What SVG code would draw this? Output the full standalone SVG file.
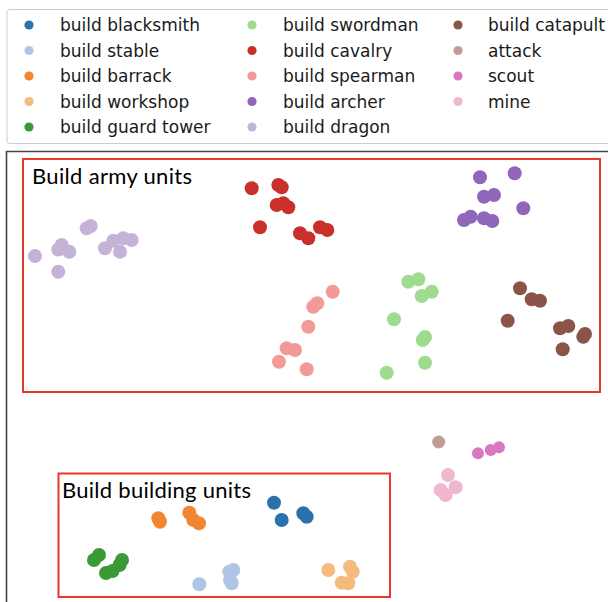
<svg xmlns="http://www.w3.org/2000/svg" width="608" height="602" viewBox="0 0 608 602">
<style>
.lt{font-family:"DejaVu Sans",sans-serif;font-size:17px;fill:#1a1a1a}
.bl{font-family:Lato,"Open Sans",sans-serif;font-size:22px;fill:#000}
.box{fill:none;stroke:#e8382a;stroke-width:2}
.c1{fill:#2a72ae}.c2{fill:#afc5e6}.c3{fill:#f08630}.c4{fill:#f5bb7c}.c5{fill:#3a9a36}
.c6{fill:#9edb8e}.c7{fill:#c9302c}.c8{fill:#f29a97}.c9{fill:#9066bb}.c10{fill:#c4b3d6}
.c11{fill:#8a5448}.c12{fill:#c29c94}.c13{fill:#da77c0}.c14{fill:#f0b6d0}
</style>
<rect width="608" height="602" fill="#fff"/>
<g id="legend">
<rect x="7" y="9.5" width="620" height="134" rx="3" fill="#fff" stroke="#cccccc" stroke-width="1"/>
<g>
<circle cx="29" cy="25" r="4.6" class="c1"/><text x="60" y="31" class="lt">build blacksmith</text>
<circle cx="29" cy="50.5" r="4.6" class="c2"/><text x="60" y="56.5" class="lt">build stable</text>
<circle cx="29" cy="76" r="4.6" class="c3"/><text x="60" y="82" class="lt">build barrack</text>
<circle cx="29" cy="101.5" r="4.6" class="c4"/><text x="60" y="107.5" class="lt">build workshop</text>
<circle cx="29" cy="127" r="4.6" class="c5"/><text x="60" y="133" class="lt">build guard tower</text>
<circle cx="252" cy="25" r="4.6" class="c6"/><text x="283" y="31" class="lt">build swordman</text>
<circle cx="252" cy="50.5" r="4.6" class="c7"/><text x="283" y="56.5" class="lt">build cavalry</text>
<circle cx="252" cy="76" r="4.6" class="c8"/><text x="283" y="82" class="lt">build spearman</text>
<circle cx="252" cy="101.5" r="4.6" class="c9"/><text x="283" y="107.5" class="lt">build archer</text>
<circle cx="252" cy="127" r="4.6" class="c10"/><text x="283" y="133" class="lt">build dragon</text>
<circle cx="458" cy="25" r="4.6" class="c11"/><text x="488" y="31" class="lt">build catapult</text>
<circle cx="458" cy="50.5" r="4.6" class="c12"/><text x="488" y="56.5" class="lt">attack</text>
<circle cx="458" cy="76" r="4.6" class="c13"/><text x="488" y="82" class="lt">scout</text>
<circle cx="458" cy="101.5" r="4.6" class="c14"/><text x="488" y="107.5" class="lt">mine</text>
</g>
</g>
<g id="frame">
<path d="M6.5 602 V151.5 H620" fill="none" stroke="#444" stroke-width="1.6"/>
</g>
<g id="points">
<g class="c10">
<circle cx="35" cy="256" r="7"/><circle cx="58.3" cy="271.7" r="7"/><circle cx="61.7" cy="245" r="7"/><circle cx="58.3" cy="249.5" r="7"/><circle cx="69.3" cy="251.7" r="7"/><circle cx="86.7" cy="228.3" r="7"/><circle cx="90.7" cy="226" r="7"/><circle cx="105" cy="248.3" r="7"/><circle cx="113.3" cy="240.7" r="7"/><circle cx="123.3" cy="238.3" r="7"/><circle cx="131.7" cy="240" r="7"/><circle cx="120" cy="251.7" r="7"/>
</g>
<g class="c7">
<circle cx="251.7" cy="188.3" r="7"/><circle cx="278.3" cy="185" r="7"/><circle cx="281.7" cy="187.3" r="7"/><circle cx="276.7" cy="205" r="7"/><circle cx="283.3" cy="203.3" r="7"/><circle cx="288.3" cy="207.3" r="7"/><circle cx="260" cy="227.3" r="7"/><circle cx="300" cy="233.3" r="7"/><circle cx="308.3" cy="238.3" r="7"/><circle cx="320" cy="227.3" r="7"/><circle cx="327.3" cy="230" r="7"/>
</g>
<g class="c9">
<circle cx="480" cy="177.3" r="7"/><circle cx="514.7" cy="173.3" r="7"/><circle cx="484" cy="196.7" r="7"/><circle cx="494" cy="195" r="7"/><circle cx="523.3" cy="208.3" r="7"/><circle cx="464" cy="220" r="7"/><circle cx="470.7" cy="216.7" r="7"/><circle cx="484" cy="218.3" r="7"/><circle cx="492.3" cy="221" r="7"/>
</g>
<g class="c8">
<circle cx="332.7" cy="291.7" r="7"/><circle cx="313.3" cy="306.7" r="7"/><circle cx="317.3" cy="303.3" r="7"/><circle cx="308.3" cy="326.7" r="7"/><circle cx="286.7" cy="348.3" r="7"/><circle cx="295" cy="350" r="7"/><circle cx="279" cy="361.7" r="7"/><circle cx="306.7" cy="369.3" r="7"/>
</g>
<g class="c6">
<circle cx="408.3" cy="281.7" r="7"/><circle cx="418.3" cy="279.3" r="7"/><circle cx="421.7" cy="296" r="7"/><circle cx="431.7" cy="291.7" r="7"/><circle cx="394" cy="319.3" r="7"/><circle cx="422.7" cy="340" r="7"/><circle cx="425" cy="337" r="7"/><circle cx="425" cy="362.7" r="7"/><circle cx="386.7" cy="372.7" r="7"/>
</g>
<g class="c11">
<circle cx="520" cy="288.3" r="7"/><circle cx="531.7" cy="299.3" r="7"/><circle cx="540" cy="300.7" r="7"/><circle cx="507.7" cy="320.7" r="7"/><circle cx="560" cy="328.3" r="7"/><circle cx="568.3" cy="326" r="7"/><circle cx="583.3" cy="336.7" r="7"/><circle cx="585" cy="334" r="7"/><circle cx="562.7" cy="349.3" r="7"/>
</g>
<g class="c12"><circle cx="438.7" cy="442" r="6.5"/></g>
<g class="c13">
<circle cx="478" cy="453.3" r="6"/><circle cx="490.7" cy="450" r="6"/><circle cx="499" cy="447.3" r="6"/>
</g>
<g class="c14">
<circle cx="448" cy="475" r="7"/><circle cx="455.7" cy="487.3" r="7"/><circle cx="440.7" cy="490" r="7"/><circle cx="445.7" cy="495" r="7"/>
</g>
<g class="c1">
<circle cx="274" cy="502.7" r="7"/><circle cx="281.7" cy="520" r="7"/><circle cx="303.3" cy="513.3" r="7"/><circle cx="306.7" cy="516.7" r="7"/>
</g>
<g class="c4">
<circle cx="328.3" cy="570" r="7"/><circle cx="350" cy="566.7" r="7"/><circle cx="352.7" cy="571.7" r="7"/><circle cx="341.7" cy="582.7" r="7"/><circle cx="348.3" cy="583.3" r="7"/>
</g>
<g class="c3">
<circle cx="158.3" cy="518.3" r="7"/><circle cx="160" cy="521.7" r="7"/><circle cx="189.3" cy="512.7" r="7"/><circle cx="193.3" cy="520" r="7"/><circle cx="199" cy="523.3" r="7"/>
</g>
<g class="c5">
<circle cx="99" cy="555" r="7"/><circle cx="94" cy="560" r="7"/><circle cx="122" cy="560" r="7"/><circle cx="119.5" cy="565" r="7"/><circle cx="106" cy="573" r="7"/><circle cx="112.5" cy="571" r="7"/>
</g>
<g class="c2">
<circle cx="199.3" cy="584.3" r="7"/><circle cx="233.3" cy="570" r="7"/><circle cx="229.3" cy="571.7" r="7"/><circle cx="230" cy="580" r="7"/><circle cx="231.7" cy="583.3" r="7"/>
</g>
</g>
<g id="army">
<rect x="23" y="159" width="577" height="233" class="box"/>
<text x="32" y="184" class="bl" textLength="160">Build army units</text>
</g>
<g id="building">
<rect x="58.5" y="473.5" width="331.5" height="123.5" class="box"/>
<text x="62" y="498" class="bl" textLength="189">Build building units</text>
</g>
</svg>
